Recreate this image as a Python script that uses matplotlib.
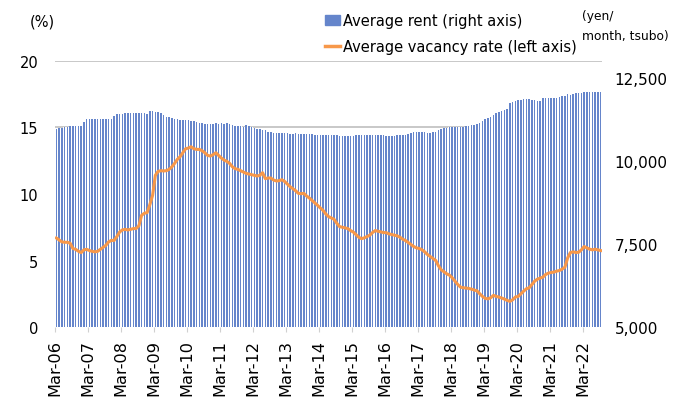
import numpy as np
import matplotlib.pyplot as plt
from matplotlib.patches import Patch
from matplotlib.lines import Line2D

# monthly series, Mar-06 .. Sep-22
rent = [
    10940, 10985, 10995, 11015, 11025, 11045, 11045, 11045, 11045, 11050, 11165, 11260,
    11265, 11265, 11250, 11260, 11250, 11250, 11245, 11250, 11260, 11340, 11390, 11400,
    11415, 11430, 11435, 11420, 11430, 11435, 11430, 11420, 11425, 11415, 11495, 11500,
    11465, 11450, 11430, 11375, 11315, 11310, 11295, 11250, 11240, 11220, 11230, 11220,
    11215, 11205, 11190, 11165, 11145, 11130, 11110, 11095, 11100, 11095, 11125, 11115,
    11125, 11110, 11125, 11110, 11070, 11045, 11035, 11030, 11020, 11080, 11035, 11005,
    10975, 10965, 10940, 10935, 10920, 10875, 10855, 10845, 10840, 10845, 10835, 10835,
    10820, 10815, 10815, 10820, 10815, 10810, 10815, 10810, 10810, 10805, 10785, 10780,
    10780, 10775, 10770, 10775, 10775, 10770, 10760, 10745, 10740, 10730, 10735, 10740,
    10740, 10765, 10785, 10780, 10785, 10780, 10780, 10785, 10780, 10780, 10780, 10770,
    10755, 10750, 10750, 10755, 10760, 10780, 10785, 10785, 10805, 10845, 10855, 10860,
    10855, 10850, 10855, 10845, 10845, 10855, 10875, 10910, 10940, 10975, 10995, 11005,
    11015, 11015, 11015, 11020, 11025, 11035, 11050, 11065, 11080, 11110, 11145, 11195,
    11260, 11270, 11325, 11370, 11445, 11475, 11495, 11515, 11540, 11720, 11765, 11785,
    11825, 11835, 11850, 11860, 11860, 11825, 11815, 11795, 11805, 11880, 11870, 11870,
    11875, 11880, 11900, 11925, 11935, 11945, 12010, 11985, 11995, 12030, 12040, 12030,
    12060, 12070, 12070, 12065, 12070, 12065, 12070,
]

vacancy = [
    6.69, 6.55, 6.40, 6.37, 6.37, 6.30, 5.90, 5.84, 5.70, 5.59, 5.80, 5.84,
    5.75, 5.69, 5.65, 5.69, 5.84, 6.00, 6.14, 6.40, 6.51, 6.51, 6.80, 7.14,
    7.30, 7.34, 7.30, 7.34, 7.40, 7.40, 7.60, 8.40, 8.55, 8.60, 9.20, 9.90,
    11.40, 11.70, 11.75, 11.73, 11.75, 11.85, 12.03, 12.30, 12.60, 12.80, 13.10, 13.40,
    13.45, 13.55, 13.40, 13.35, 13.35, 13.25, 13.10, 12.90, 12.85, 12.95, 13.10, 12.90,
    12.70, 12.55, 12.45, 12.30, 12.05, 11.90, 11.85, 11.75, 11.65, 11.55, 11.50, 11.45,
    11.40, 11.35, 11.40, 11.60, 11.15, 11.20, 11.20, 11.05, 10.98, 11.00, 11.07, 10.95,
    10.75, 10.55, 10.40, 10.25, 10.05, 10.02, 10.05, 9.85, 9.70, 9.52, 9.35, 9.15,
    8.95, 8.77, 8.50, 8.30, 8.20, 8.10, 7.80, 7.55, 7.50, 7.45, 7.40, 7.25,
    7.14, 6.95, 6.75, 6.64, 6.70, 6.80, 6.90, 7.10, 7.25, 7.20, 7.15, 7.10,
    7.09, 7.00, 6.95, 6.90, 6.85, 6.75, 6.60, 6.50, 6.35, 6.20, 6.05, 5.95,
    5.90, 5.80, 5.65, 5.45, 5.30, 5.15, 5.00, 4.60, 4.30, 4.15, 4.00, 3.90,
    3.70, 3.45, 3.20, 3.00, 2.95, 2.93, 2.90, 2.85, 2.78, 2.72, 2.50, 2.30,
    2.15, 2.12, 2.20, 2.38, 2.30, 2.25, 2.18, 2.10, 2.00, 1.93, 2.05, 2.26,
    2.30, 2.50, 2.70, 2.88, 2.95, 3.20, 3.45, 3.60, 3.68, 3.75, 3.95, 4.05,
    4.10, 4.13, 4.20, 4.25, 4.35, 4.50, 5.20, 5.60, 5.65, 5.60, 5.62, 5.80,
    6.05, 5.95, 5.85, 5.80, 5.85, 5.80, 5.75,
]

year_labels = ["Mar-%02d" % y for y in range(6, 23)]
left_ticks = [0, 5, 10, 15, 20]
right_ticks = [5000, 7500, 10000, 12500]

n = len(rent)
x = np.arange(n)

bar_color = "#6585CB"
line_color = "#F7984A"
grid_color = "#BFBFBF"
fs = 10.5

fig = plt.figure(figsize=(6.92, 4.02), dpi=100)
ax = fig.add_axes([0.0795, 0.184, 0.7905, 0.662])

# bottom layer: left scale and its gridlines
ax.set_ylim(0, 20)
ax.set_yticks(left_ticks)
ax.grid(axis="y", color=grid_color, linewidth=1.2)
ax.tick_params(axis="y", length=0, pad=12, labelsize=fs)

# middle layer: rent bars on the right scale (white backing hides the grid under the bars)
ax2 = ax.twinx()
ax2.bar(x, rent, width=1.0, color="white", zorder=1)
ax2.bar(x, rent, width=0.55, color=bar_color, zorder=2)
ax2.set_ylim(5000, 13000)
ax2.set_yticks(right_ticks)
ax2.set_yticklabels(["{:,}".format(v) for v in right_ticks])
ax2.tick_params(axis="y", length=0, pad=9, labelsize=11)

# top layer: vacancy line on the left scale
ax3 = ax.twinx()
ax3.set_ylim(0, 20)
ax3.plot(x, vacancy, color=line_color, linewidth=2.2)
ax3.set_yticks([])

for a in (ax, ax2, ax3):
    a.set_xlim(-0.5, n - 0.5)
    for s in a.spines.values():
        s.set_visible(False)

ax.set_xticks(np.arange(0, n, 12) - 0.5)
ax.set_xticklabels(year_labels, rotation=90, fontsize=11.6)
ax.tick_params(axis="x", length=3.5, color="#D0D0D0", pad=5)
ax2.tick_params(axis="x", length=0)
ax3.tick_params(axis="x", length=0)

fig.text(0.043, 0.935, "(%)", fontsize=fs)
fig.text(0.841, 0.9, "(yen/\nmonth, tsubo)", fontsize=8.8, linespacing=1.75)

handles = [Patch(color=bar_color), Line2D([0], [0], color=line_color, linewidth=2.5)]
fig.legend(handles, ["Average rent (right axis)", "Average vacancy rate (left axis)"],
           loc="upper left", bbox_to_anchor=(0.455, 0.99), frameon=False,
           fontsize=fs, handlelength=1.0, handletextpad=0.2, labelspacing=0.75,
           borderaxespad=0.3)

fig.savefig("out.png", dpi=100)
